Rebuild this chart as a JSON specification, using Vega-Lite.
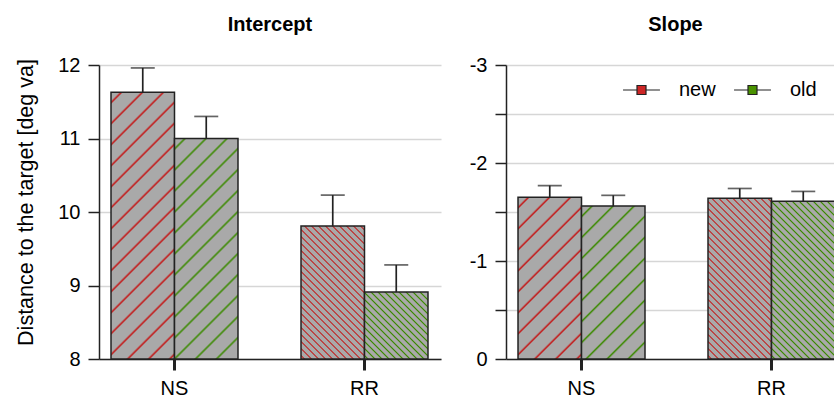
{
"$schema":"https://vega.github.io/schema/vega-lite/v6.json",
"padding":{"left":15,"top":15,"right":0,"bottom":0},
"spacing":28,
"config":{"font":"Liberation Sans","view":{"stroke":null},
"title":{"fontSize":20,"fontWeight":"bold","color":"black","offset":20},
"axisX":{"tickSize":11,"tickWidth":3,"tickColor":"#222","domainColor":"#222","domainWidth":1.5,"labelFontSize":20,"labelPadding":8,"labelAngle":0,"grid":false,"labelColor":"black"},
"axisY":{"grid":true,"gridColor":"#d6d6d6","gridWidth":1.5,"tickSize":11,"tickWidth":1.5,"tickColor":"#222","domainColor":"#222","domainWidth":1.5,"labelFontSize":20,"labelPadding":8,"labelColor":"black","titleFontSize":21.5,"titleFontWeight":"normal","titlePadding":20,"titleColor":"black"}},
"datasets":{
"intercept":[{"cond":"NS","group":"new","value":11.63,"upper":11.96},{"cond":"NS","group":"old","value":11.0,"upper":11.3},{"cond":"RR","group":"new","value":9.81,"upper":10.23},{"cond":"RR","group":"old","value":8.91,"upper":9.28}],
"slope":[{"cond":"NS","group":"new","value":-1.65,"upper":-1.77},{"cond":"NS","group":"old","value":-1.56,"upper":-1.67},{"cond":"RR","group":"new","value":-1.64,"upper":-1.74},{"cond":"RR","group":"old","value":-1.61,"upper":-1.71}]
},
"resolve":{"scale":{"x":"independent","y":"independent"},"legend":{"color":"independent"}},
"hconcat":[
{"width":342,"height":294,"title":{"text":"Intercept"},"data":{"name":"intercept"},
"encoding":{
"x":{"field":"cond","type":"nominal","title":null,"scale":{"paddingInner":0.3316,"paddingOuter":0.0658,"align":0.48}},
"xOffset":{"field":"group","type":"nominal","scale":{"domain":["new","old"],"paddingInner":0,"paddingOuter":0}}},
"layer":[
{"mark":{"type":"bar","stroke":"#222","strokeWidth":1.5},
"encoding":{
"y":{"field":"value","type":"quantitative","title":"Distance to the target [deg va]","scale":{"domain":[8,12],"zero":false,"nice":false},"axis":{"values":[8,8.5,9,9.5,10,10.5,11,11.5,12],"titleY":137,"labelExpr":"datum.value % 1 === 0 ? '' + datum.value : ''"}},
"y2":{"datum":8},
"fill":{"condition":[
{"test":"datum.cond==='NS'&&datum.group==='new'","value":{"gradient":"linear","x1":0,"y1":0,"x2":0.2789,"y2":1.1716,"stops":[
{"offset":0.0251,"color":"#a9a9a9"},{"offset":0.0318,"color":"#c41616"},{"offset":0.0384,"color":"#a9a9a9"},
{"offset":0.0887,"color":"#a9a9a9"},{"offset":0.0954,"color":"#c41616"},{"offset":0.1020,"color":"#a9a9a9"},
{"offset":0.1523,"color":"#a9a9a9"},{"offset":0.1589,"color":"#c41616"},{"offset":0.1656,"color":"#a9a9a9"},
{"offset":0.2159,"color":"#a9a9a9"},{"offset":0.2225,"color":"#c41616"},{"offset":0.2292,"color":"#a9a9a9"},
{"offset":0.2794,"color":"#a9a9a9"},{"offset":0.2861,"color":"#c41616"},{"offset":0.2928,"color":"#a9a9a9"},
{"offset":0.3430,"color":"#a9a9a9"},{"offset":0.3497,"color":"#c41616"},{"offset":0.3563,"color":"#a9a9a9"},
{"offset":0.4066,"color":"#a9a9a9"},{"offset":0.4133,"color":"#c41616"},{"offset":0.4199,"color":"#a9a9a9"},
{"offset":0.4702,"color":"#a9a9a9"},{"offset":0.4768,"color":"#c41616"},{"offset":0.4835,"color":"#a9a9a9"},
{"offset":0.5338,"color":"#a9a9a9"},{"offset":0.5404,"color":"#c41616"},{"offset":0.5471,"color":"#a9a9a9"},
{"offset":0.5973,"color":"#a9a9a9"},{"offset":0.6040,"color":"#c41616"},{"offset":0.6107,"color":"#a9a9a9"},
{"offset":0.6609,"color":"#a9a9a9"},{"offset":0.6676,"color":"#c41616"},{"offset":0.6742,"color":"#a9a9a9"},
{"offset":0.7245,"color":"#a9a9a9"},{"offset":0.7311,"color":"#c41616"},{"offset":0.7378,"color":"#a9a9a9"},
{"offset":0.7881,"color":"#a9a9a9"},{"offset":0.7947,"color":"#c41616"},{"offset":0.8014,"color":"#a9a9a9"},
{"offset":0.8516,"color":"#a9a9a9"},{"offset":0.8583,"color":"#c41616"},{"offset":0.8650,"color":"#a9a9a9"},
{"offset":0.9152,"color":"#a9a9a9"},{"offset":0.9219,"color":"#c41616"},{"offset":0.9285,"color":"#a9a9a9"},
{"offset":0.9788,"color":"#a9a9a9"},{"offset":0.9855,"color":"#c41616"},{"offset":0.9921,"color":"#a9a9a9"}]}},
{"test":"datum.cond==='NS'&&datum.group==='old'","value":{"gradient":"linear","x1":0,"y1":0,"x2":0.3425,"y2":1.1893,"stops":[
{"offset":0.0292,"color":"#a9a9a9"},{"offset":0.0370,"color":"#3b8a00"},{"offset":0.0447,"color":"#a9a9a9"},
{"offset":0.1032,"color":"#a9a9a9"},{"offset":0.1109,"color":"#3b8a00"},{"offset":0.1187,"color":"#a9a9a9"},
{"offset":0.1771,"color":"#a9a9a9"},{"offset":0.1849,"color":"#3b8a00"},{"offset":0.1926,"color":"#a9a9a9"},
{"offset":0.2511,"color":"#a9a9a9"},{"offset":0.2588,"color":"#3b8a00"},{"offset":0.2666,"color":"#a9a9a9"},
{"offset":0.3250,"color":"#a9a9a9"},{"offset":0.3327,"color":"#3b8a00"},{"offset":0.3405,"color":"#a9a9a9"},
{"offset":0.3989,"color":"#a9a9a9"},{"offset":0.4067,"color":"#3b8a00"},{"offset":0.4144,"color":"#a9a9a9"},
{"offset":0.4729,"color":"#a9a9a9"},{"offset":0.4806,"color":"#3b8a00"},{"offset":0.4884,"color":"#a9a9a9"},
{"offset":0.5468,"color":"#a9a9a9"},{"offset":0.5546,"color":"#3b8a00"},{"offset":0.5623,"color":"#a9a9a9"},
{"offset":0.6208,"color":"#a9a9a9"},{"offset":0.6285,"color":"#3b8a00"},{"offset":0.6363,"color":"#a9a9a9"},
{"offset":0.6947,"color":"#a9a9a9"},{"offset":0.7025,"color":"#3b8a00"},{"offset":0.7102,"color":"#a9a9a9"},
{"offset":0.7687,"color":"#a9a9a9"},{"offset":0.7764,"color":"#3b8a00"},{"offset":0.7842,"color":"#a9a9a9"},
{"offset":0.8426,"color":"#a9a9a9"},{"offset":0.8504,"color":"#3b8a00"},{"offset":0.8581,"color":"#a9a9a9"},
{"offset":0.9166,"color":"#a9a9a9"},{"offset":0.9243,"color":"#3b8a00"},{"offset":0.9320,"color":"#a9a9a9"}]}},
{"test":"datum.cond==='RR'&&datum.group==='new'","value":{"gradient":"linear","x1":0,"y1":1,"x2":0.5744,"y2":-0.2032,"stops":[
{"offset":0.0102,"color":"#a9a9a9"},{"offset":0.0178,"color":"#c41616"},{"offset":0.0254,"color":"#a9a9a9"},
{"offset":0.0458,"color":"#a9a9a9"},{"offset":0.0534,"color":"#c41616"},{"offset":0.0611,"color":"#a9a9a9"},
{"offset":0.0814,"color":"#a9a9a9"},{"offset":0.0891,"color":"#c41616"},{"offset":0.0967,"color":"#a9a9a9"},
{"offset":0.1170,"color":"#a9a9a9"},{"offset":0.1247,"color":"#c41616"},{"offset":0.1323,"color":"#a9a9a9"},
{"offset":0.1527,"color":"#a9a9a9"},{"offset":0.1603,"color":"#c41616"},{"offset":0.1679,"color":"#a9a9a9"},
{"offset":0.1883,"color":"#a9a9a9"},{"offset":0.1959,"color":"#c41616"},{"offset":0.2036,"color":"#a9a9a9"},
{"offset":0.2239,"color":"#a9a9a9"},{"offset":0.2316,"color":"#c41616"},{"offset":0.2392,"color":"#a9a9a9"},
{"offset":0.2595,"color":"#a9a9a9"},{"offset":0.2672,"color":"#c41616"},{"offset":0.2748,"color":"#a9a9a9"},
{"offset":0.2952,"color":"#a9a9a9"},{"offset":0.3028,"color":"#c41616"},{"offset":0.3104,"color":"#a9a9a9"},
{"offset":0.3308,"color":"#a9a9a9"},{"offset":0.3384,"color":"#c41616"},{"offset":0.3461,"color":"#a9a9a9"},
{"offset":0.3664,"color":"#a9a9a9"},{"offset":0.3740,"color":"#c41616"},{"offset":0.3817,"color":"#a9a9a9"},
{"offset":0.4020,"color":"#a9a9a9"},{"offset":0.4097,"color":"#c41616"},{"offset":0.4173,"color":"#a9a9a9"},
{"offset":0.4377,"color":"#a9a9a9"},{"offset":0.4453,"color":"#c41616"},{"offset":0.4529,"color":"#a9a9a9"},
{"offset":0.4733,"color":"#a9a9a9"},{"offset":0.4809,"color":"#c41616"},{"offset":0.4885,"color":"#a9a9a9"},
{"offset":0.5089,"color":"#a9a9a9"},{"offset":0.5165,"color":"#c41616"},{"offset":0.5242,"color":"#a9a9a9"},
{"offset":0.5445,"color":"#a9a9a9"},{"offset":0.5522,"color":"#c41616"},{"offset":0.5598,"color":"#a9a9a9"},
{"offset":0.5801,"color":"#a9a9a9"},{"offset":0.5878,"color":"#c41616"},{"offset":0.5954,"color":"#a9a9a9"},
{"offset":0.6158,"color":"#a9a9a9"},{"offset":0.6234,"color":"#c41616"},{"offset":0.6310,"color":"#a9a9a9"},
{"offset":0.6514,"color":"#a9a9a9"},{"offset":0.6590,"color":"#c41616"},{"offset":0.6667,"color":"#a9a9a9"},
{"offset":0.6870,"color":"#a9a9a9"},{"offset":0.6946,"color":"#c41616"},{"offset":0.7023,"color":"#a9a9a9"},
{"offset":0.7226,"color":"#a9a9a9"},{"offset":0.7303,"color":"#c41616"},{"offset":0.7379,"color":"#a9a9a9"},
{"offset":0.7583,"color":"#a9a9a9"},{"offset":0.7659,"color":"#c41616"},{"offset":0.7735,"color":"#a9a9a9"},
{"offset":0.7939,"color":"#a9a9a9"},{"offset":0.8015,"color":"#c41616"},{"offset":0.8092,"color":"#a9a9a9"},
{"offset":0.8295,"color":"#a9a9a9"},{"offset":0.8371,"color":"#c41616"},{"offset":0.8448,"color":"#a9a9a9"},
{"offset":0.8651,"color":"#a9a9a9"},{"offset":0.8728,"color":"#c41616"},{"offset":0.8804,"color":"#a9a9a9"},
{"offset":0.9008,"color":"#a9a9a9"},{"offset":0.9084,"color":"#c41616"},{"offset":0.9160,"color":"#a9a9a9"},
{"offset":0.9364,"color":"#a9a9a9"},{"offset":0.9440,"color":"#c41616"},{"offset":0.9516,"color":"#a9a9a9"},
{"offset":0.9720,"color":"#a9a9a9"},{"offset":0.9796,"color":"#c41616"},{"offset":0.9873,"color":"#a9a9a9"}]}},
{"test":"datum.cond==='RR'&&datum.group==='old'","value":{"gradient":"linear","x1":0,"y1":1,"x2":0.9733,"y2":-0.0254,"stops":[
{"offset":0.0153,"color":"#a9a9a9"},{"offset":0.0268,"color":"#3b8a00"},{"offset":0.0383,"color":"#a9a9a9"},
{"offset":0.0690,"color":"#a9a9a9"},{"offset":0.0805,"color":"#3b8a00"},{"offset":0.0920,"color":"#a9a9a9"},
{"offset":0.1227,"color":"#a9a9a9"},{"offset":0.1342,"color":"#3b8a00"},{"offset":0.1457,"color":"#a9a9a9"},
{"offset":0.1764,"color":"#a9a9a9"},{"offset":0.1879,"color":"#3b8a00"},{"offset":0.1994,"color":"#a9a9a9"},
{"offset":0.2301,"color":"#a9a9a9"},{"offset":0.2416,"color":"#3b8a00"},{"offset":0.2531,"color":"#a9a9a9"},
{"offset":0.2837,"color":"#a9a9a9"},{"offset":0.2952,"color":"#3b8a00"},{"offset":0.3067,"color":"#a9a9a9"},
{"offset":0.3374,"color":"#a9a9a9"},{"offset":0.3489,"color":"#3b8a00"},{"offset":0.3604,"color":"#a9a9a9"},
{"offset":0.3911,"color":"#a9a9a9"},{"offset":0.4026,"color":"#3b8a00"},{"offset":0.4141,"color":"#a9a9a9"},
{"offset":0.4448,"color":"#a9a9a9"},{"offset":0.4563,"color":"#3b8a00"},{"offset":0.4678,"color":"#a9a9a9"},
{"offset":0.4985,"color":"#a9a9a9"},{"offset":0.5100,"color":"#3b8a00"},{"offset":0.5215,"color":"#a9a9a9"},
{"offset":0.5521,"color":"#a9a9a9"},{"offset":0.5637,"color":"#3b8a00"},{"offset":0.5752,"color":"#a9a9a9"},
{"offset":0.6058,"color":"#a9a9a9"},{"offset":0.6173,"color":"#3b8a00"},{"offset":0.6288,"color":"#a9a9a9"},
{"offset":0.6595,"color":"#a9a9a9"},{"offset":0.6710,"color":"#3b8a00"},{"offset":0.6825,"color":"#a9a9a9"},
{"offset":0.7132,"color":"#a9a9a9"},{"offset":0.7247,"color":"#3b8a00"},{"offset":0.7362,"color":"#a9a9a9"},
{"offset":0.7669,"color":"#a9a9a9"},{"offset":0.7784,"color":"#3b8a00"},{"offset":0.7899,"color":"#a9a9a9"},
{"offset":0.8206,"color":"#a9a9a9"},{"offset":0.8321,"color":"#3b8a00"},{"offset":0.8436,"color":"#a9a9a9"},
{"offset":0.8742,"color":"#a9a9a9"},{"offset":0.8857,"color":"#3b8a00"},{"offset":0.8972,"color":"#a9a9a9"},
{"offset":0.9279,"color":"#a9a9a9"},{"offset":0.9394,"color":"#3b8a00"},{"offset":0.9509,"color":"#a9a9a9"}]}}
],"value":"#a9a9a9"}}},
{"mark":{"type":"rule","color":"#222","strokeWidth":1.7},
"encoding":{"y":{"field":"value","type":"quantitative","title":"Distance to the target [deg va]"},"y2":{"field":"upper"}}},
{"mark":{"type":"tick","color":"#222","thickness":1.7,"size":24},
"encoding":{"y":{"field":"upper","type":"quantitative","title":"Distance to the target [deg va]"}}}
]},
{"width":329,"height":294,"title":{"text":"Slope","dx":5},"data":{"name":"slope"},
"encoding":{
"x":{"field":"cond","type":"nominal","title":null,"scale":{"paddingInner":0.3316,"paddingOuter":0.0316,"align":1}},
"xOffset":{"field":"group","type":"nominal","scale":{"domain":["new","old"],"paddingInner":0,"paddingOuter":0}}},
"layer":[
{"mark":{"type":"bar","stroke":"#222","strokeWidth":1.5},
"encoding":{
"y":{"field":"value","type":"quantitative","title":null,"scale":{"domain":[-3,0],"reverse":true,"nice":false},"axis":{"values":[-3,-2.5,-2,-1.5,-1,-0.5,0],"labelExpr":"datum.value % 1 === 0 ? '' + datum.value : ''"}},
"fill":{"condition":[
{"test":"datum.cond==='NS'&&datum.group==='new'","value":{"gradient":"linear","x1":0,"y1":0,"x2":0.4738,"y2":1.2066,"stops":[
{"offset":0.0369,"color":"#a9a9a9"},{"offset":0.0466,"color":"#c41616"},{"offset":0.0564,"color":"#a9a9a9"},
{"offset":0.1301,"color":"#a9a9a9"},{"offset":0.1399,"color":"#c41616"},{"offset":0.1496,"color":"#a9a9a9"},
{"offset":0.2234,"color":"#a9a9a9"},{"offset":0.2331,"color":"#c41616"},{"offset":0.2429,"color":"#a9a9a9"},
{"offset":0.3166,"color":"#a9a9a9"},{"offset":0.3264,"color":"#c41616"},{"offset":0.3361,"color":"#a9a9a9"},
{"offset":0.4099,"color":"#a9a9a9"},{"offset":0.4196,"color":"#c41616"},{"offset":0.4294,"color":"#a9a9a9"},
{"offset":0.5031,"color":"#a9a9a9"},{"offset":0.5129,"color":"#c41616"},{"offset":0.5226,"color":"#a9a9a9"},
{"offset":0.5964,"color":"#a9a9a9"},{"offset":0.6061,"color":"#c41616"},{"offset":0.6159,"color":"#a9a9a9"},
{"offset":0.6896,"color":"#a9a9a9"},{"offset":0.6994,"color":"#c41616"},{"offset":0.7091,"color":"#a9a9a9"},
{"offset":0.7829,"color":"#a9a9a9"},{"offset":0.7926,"color":"#c41616"},{"offset":0.8024,"color":"#a9a9a9"},
{"offset":0.8761,"color":"#a9a9a9"},{"offset":0.8859,"color":"#c41616"},{"offset":0.8956,"color":"#a9a9a9"},
{"offset":0.9694,"color":"#a9a9a9"},{"offset":0.9791,"color":"#c41616"},{"offset":0.9889,"color":"#a9a9a9"}]}},
{"test":"datum.cond==='NS'&&datum.group==='old'","value":{"gradient":"linear","x1":0,"y1":0,"x2":0.5013,"y2":1.2071,"stops":[
{"offset":0.0384,"color":"#a9a9a9"},{"offset":0.0485,"color":"#3b8a00"},{"offset":0.0587,"color":"#a9a9a9"},
{"offset":0.1354,"color":"#a9a9a9"},{"offset":0.1456,"color":"#3b8a00"},{"offset":0.1557,"color":"#a9a9a9"},
{"offset":0.2324,"color":"#a9a9a9"},{"offset":0.2426,"color":"#3b8a00"},{"offset":0.2528,"color":"#a9a9a9"},
{"offset":0.3295,"color":"#a9a9a9"},{"offset":0.3396,"color":"#3b8a00"},{"offset":0.3498,"color":"#a9a9a9"},
{"offset":0.4265,"color":"#a9a9a9"},{"offset":0.4367,"color":"#3b8a00"},{"offset":0.4469,"color":"#a9a9a9"},
{"offset":0.5236,"color":"#a9a9a9"},{"offset":0.5337,"color":"#3b8a00"},{"offset":0.5439,"color":"#a9a9a9"},
{"offset":0.6206,"color":"#a9a9a9"},{"offset":0.6308,"color":"#3b8a00"},{"offset":0.6409,"color":"#a9a9a9"},
{"offset":0.7177,"color":"#a9a9a9"},{"offset":0.7278,"color":"#3b8a00"},{"offset":0.7380,"color":"#a9a9a9"},
{"offset":0.8147,"color":"#a9a9a9"},{"offset":0.8249,"color":"#3b8a00"},{"offset":0.8350,"color":"#a9a9a9"},
{"offset":0.9117,"color":"#a9a9a9"},{"offset":0.9219,"color":"#3b8a00"},{"offset":0.9321,"color":"#a9a9a9"}]}},
{"test":"datum.cond==='RR'&&datum.group==='new'","value":{"gradient":"linear","x1":0,"y1":1,"x2":0.4768,"y2":-0.2067,"stops":[
{"offset":0.0089,"color":"#a9a9a9"},{"offset":0.0156,"color":"#c41616"},{"offset":0.0223,"color":"#a9a9a9"},
{"offset":0.0401,"color":"#a9a9a9"},{"offset":0.0468,"color":"#c41616"},{"offset":0.0535,"color":"#a9a9a9"},
{"offset":0.0714,"color":"#a9a9a9"},{"offset":0.0781,"color":"#c41616"},{"offset":0.0847,"color":"#a9a9a9"},
{"offset":0.1026,"color":"#a9a9a9"},{"offset":0.1093,"color":"#c41616"},{"offset":0.1160,"color":"#a9a9a9"},
{"offset":0.1338,"color":"#a9a9a9"},{"offset":0.1405,"color":"#c41616"},{"offset":0.1472,"color":"#a9a9a9"},
{"offset":0.1650,"color":"#a9a9a9"},{"offset":0.1717,"color":"#c41616"},{"offset":0.1784,"color":"#a9a9a9"},
{"offset":0.1963,"color":"#a9a9a9"},{"offset":0.2029,"color":"#c41616"},{"offset":0.2096,"color":"#a9a9a9"},
{"offset":0.2275,"color":"#a9a9a9"},{"offset":0.2342,"color":"#c41616"},{"offset":0.2409,"color":"#a9a9a9"},
{"offset":0.2587,"color":"#a9a9a9"},{"offset":0.2654,"color":"#c41616"},{"offset":0.2721,"color":"#a9a9a9"},
{"offset":0.2899,"color":"#a9a9a9"},{"offset":0.2966,"color":"#c41616"},{"offset":0.3033,"color":"#a9a9a9"},
{"offset":0.3211,"color":"#a9a9a9"},{"offset":0.3278,"color":"#c41616"},{"offset":0.3345,"color":"#a9a9a9"},
{"offset":0.3524,"color":"#a9a9a9"},{"offset":0.3591,"color":"#c41616"},{"offset":0.3657,"color":"#a9a9a9"},
{"offset":0.3836,"color":"#a9a9a9"},{"offset":0.3903,"color":"#c41616"},{"offset":0.3970,"color":"#a9a9a9"},
{"offset":0.4148,"color":"#a9a9a9"},{"offset":0.4215,"color":"#c41616"},{"offset":0.4282,"color":"#a9a9a9"},
{"offset":0.4460,"color":"#a9a9a9"},{"offset":0.4527,"color":"#c41616"},{"offset":0.4594,"color":"#a9a9a9"},
{"offset":0.4773,"color":"#a9a9a9"},{"offset":0.4839,"color":"#c41616"},{"offset":0.4906,"color":"#a9a9a9"},
{"offset":0.5085,"color":"#a9a9a9"},{"offset":0.5152,"color":"#c41616"},{"offset":0.5219,"color":"#a9a9a9"},
{"offset":0.5397,"color":"#a9a9a9"},{"offset":0.5464,"color":"#c41616"},{"offset":0.5531,"color":"#a9a9a9"},
{"offset":0.5709,"color":"#a9a9a9"},{"offset":0.5776,"color":"#c41616"},{"offset":0.5843,"color":"#a9a9a9"},
{"offset":0.6021,"color":"#a9a9a9"},{"offset":0.6088,"color":"#c41616"},{"offset":0.6155,"color":"#a9a9a9"},
{"offset":0.6334,"color":"#a9a9a9"},{"offset":0.6401,"color":"#c41616"},{"offset":0.6467,"color":"#a9a9a9"},
{"offset":0.6646,"color":"#a9a9a9"},{"offset":0.6713,"color":"#c41616"},{"offset":0.6780,"color":"#a9a9a9"},
{"offset":0.6958,"color":"#a9a9a9"},{"offset":0.7025,"color":"#c41616"},{"offset":0.7092,"color":"#a9a9a9"},
{"offset":0.7270,"color":"#a9a9a9"},{"offset":0.7337,"color":"#c41616"},{"offset":0.7404,"color":"#a9a9a9"},
{"offset":0.7583,"color":"#a9a9a9"},{"offset":0.7649,"color":"#c41616"},{"offset":0.7716,"color":"#a9a9a9"},
{"offset":0.7895,"color":"#a9a9a9"},{"offset":0.7962,"color":"#c41616"},{"offset":0.8029,"color":"#a9a9a9"},
{"offset":0.8207,"color":"#a9a9a9"},{"offset":0.8274,"color":"#c41616"},{"offset":0.8341,"color":"#a9a9a9"},
{"offset":0.8519,"color":"#a9a9a9"},{"offset":0.8586,"color":"#c41616"},{"offset":0.8653,"color":"#a9a9a9"},
{"offset":0.8831,"color":"#a9a9a9"},{"offset":0.8898,"color":"#c41616"},{"offset":0.8965,"color":"#a9a9a9"},
{"offset":0.9144,"color":"#a9a9a9"},{"offset":0.9210,"color":"#c41616"},{"offset":0.9277,"color":"#a9a9a9"},
{"offset":0.9456,"color":"#a9a9a9"},{"offset":0.9523,"color":"#c41616"},{"offset":0.9590,"color":"#a9a9a9"},
{"offset":0.9768,"color":"#a9a9a9"},{"offset":0.9835,"color":"#c41616"},{"offset":0.9902,"color":"#a9a9a9"}]}},
{"test":"datum.cond==='RR'&&datum.group==='old'","value":{"gradient":"linear","x1":0,"y1":1,"x2":0.4857,"y2":-0.2070,"stops":[
{"offset":0.0090,"color":"#a9a9a9"},{"offset":0.0158,"color":"#3b8a00"},{"offset":0.0226,"color":"#a9a9a9"},
{"offset":0.0407,"color":"#a9a9a9"},{"offset":0.0474,"color":"#3b8a00"},{"offset":0.0542,"color":"#a9a9a9"},
{"offset":0.0723,"color":"#a9a9a9"},{"offset":0.0791,"color":"#3b8a00"},{"offset":0.0859,"color":"#a9a9a9"},
{"offset":0.1039,"color":"#a9a9a9"},{"offset":0.1107,"color":"#3b8a00"},{"offset":0.1175,"color":"#a9a9a9"},
{"offset":0.1356,"color":"#a9a9a9"},{"offset":0.1423,"color":"#3b8a00"},{"offset":0.1491,"color":"#a9a9a9"},
{"offset":0.1672,"color":"#a9a9a9"},{"offset":0.1740,"color":"#3b8a00"},{"offset":0.1808,"color":"#a9a9a9"},
{"offset":0.1988,"color":"#a9a9a9"},{"offset":0.2056,"color":"#3b8a00"},{"offset":0.2124,"color":"#a9a9a9"},
{"offset":0.2305,"color":"#a9a9a9"},{"offset":0.2372,"color":"#3b8a00"},{"offset":0.2440,"color":"#a9a9a9"},
{"offset":0.2621,"color":"#a9a9a9"},{"offset":0.2689,"color":"#3b8a00"},{"offset":0.2756,"color":"#a9a9a9"},
{"offset":0.2937,"color":"#a9a9a9"},{"offset":0.3005,"color":"#3b8a00"},{"offset":0.3073,"color":"#a9a9a9"},
{"offset":0.3253,"color":"#a9a9a9"},{"offset":0.3321,"color":"#3b8a00"},{"offset":0.3389,"color":"#a9a9a9"},
{"offset":0.3570,"color":"#a9a9a9"},{"offset":0.3638,"color":"#3b8a00"},{"offset":0.3705,"color":"#a9a9a9"},
{"offset":0.3886,"color":"#a9a9a9"},{"offset":0.3954,"color":"#3b8a00"},{"offset":0.4022,"color":"#a9a9a9"},
{"offset":0.4202,"color":"#a9a9a9"},{"offset":0.4270,"color":"#3b8a00"},{"offset":0.4338,"color":"#a9a9a9"},
{"offset":0.4519,"color":"#a9a9a9"},{"offset":0.4587,"color":"#3b8a00"},{"offset":0.4654,"color":"#a9a9a9"},
{"offset":0.4835,"color":"#a9a9a9"},{"offset":0.4903,"color":"#3b8a00"},{"offset":0.4971,"color":"#a9a9a9"},
{"offset":0.5151,"color":"#a9a9a9"},{"offset":0.5219,"color":"#3b8a00"},{"offset":0.5287,"color":"#a9a9a9"},
{"offset":0.5468,"color":"#a9a9a9"},{"offset":0.5535,"color":"#3b8a00"},{"offset":0.5603,"color":"#a9a9a9"},
{"offset":0.5784,"color":"#a9a9a9"},{"offset":0.5852,"color":"#3b8a00"},{"offset":0.5920,"color":"#a9a9a9"},
{"offset":0.6100,"color":"#a9a9a9"},{"offset":0.6168,"color":"#3b8a00"},{"offset":0.6236,"color":"#a9a9a9"},
{"offset":0.6417,"color":"#a9a9a9"},{"offset":0.6484,"color":"#3b8a00"},{"offset":0.6552,"color":"#a9a9a9"},
{"offset":0.6733,"color":"#a9a9a9"},{"offset":0.6801,"color":"#3b8a00"},{"offset":0.6868,"color":"#a9a9a9"},
{"offset":0.7049,"color":"#a9a9a9"},{"offset":0.7117,"color":"#3b8a00"},{"offset":0.7185,"color":"#a9a9a9"},
{"offset":0.7366,"color":"#a9a9a9"},{"offset":0.7433,"color":"#3b8a00"},{"offset":0.7501,"color":"#a9a9a9"},
{"offset":0.7682,"color":"#a9a9a9"},{"offset":0.7750,"color":"#3b8a00"},{"offset":0.7817,"color":"#a9a9a9"},
{"offset":0.7998,"color":"#a9a9a9"},{"offset":0.8066,"color":"#3b8a00"},{"offset":0.8134,"color":"#a9a9a9"},
{"offset":0.8314,"color":"#a9a9a9"},{"offset":0.8382,"color":"#3b8a00"},{"offset":0.8450,"color":"#a9a9a9"},
{"offset":0.8631,"color":"#a9a9a9"},{"offset":0.8699,"color":"#3b8a00"},{"offset":0.8766,"color":"#a9a9a9"},
{"offset":0.8947,"color":"#a9a9a9"},{"offset":0.9015,"color":"#3b8a00"},{"offset":0.9083,"color":"#a9a9a9"},
{"offset":0.9263,"color":"#a9a9a9"},{"offset":0.9331,"color":"#3b8a00"},{"offset":0.9399,"color":"#a9a9a9"},
{"offset":0.9580,"color":"#a9a9a9"},{"offset":0.9647,"color":"#3b8a00"},{"offset":0.9715,"color":"#a9a9a9"}]}}
],"value":"#a9a9a9"}}},
{"mark":{"type":"rule","color":"#222","strokeWidth":1.7},
"encoding":{"y":{"field":"value","type":"quantitative","title":null},"y2":{"field":"upper"}}},
{"mark":{"type":"tick","color":"#222","thickness":1.7,"size":24},
"encoding":{"y":{"field":"upper","type":"quantitative","title":null}}},
{"mark":{"type":"point","shape":"square","filled":true,"opacity":0},
"encoding":{"y":{"field":"value","type":"quantitative","title":null},
"color":{"field":"group","type":"nominal","scale":{"domain":["new","old"],"range":["#cd2626","#4a9200"]},
"legend":{"orient":"none","legendX":125.5,"legendY":15,"direction":"horizontal","title":null,"symbolType":"M-4.1,0H-1M1,0H4.1M-1,-1H1V1H-1Z","symbolSize":81,"labelFontSize":20,"labelColor":"black","labelOffset":27.5,"columnPadding":15,"symbolStrokeColor":"#222","symbolStrokeWidth":1.2,"symbolOpacity":1,
"encode":{"symbols":{"update":{"stroke":{"value":"#222"},"strokeWidth":{"value":1.2},"opacity":{"value":1}}}}}}}}
]}
]}
